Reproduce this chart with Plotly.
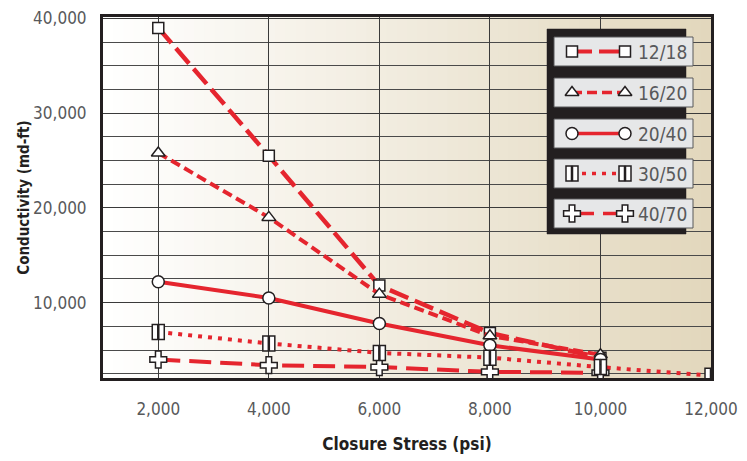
import plotly.graph_objects as go

# ---------------- data ----------------
stress = [2000, 4000, 6000, 8000, 10000, 12000]
series_names = ["12/18", "16/20", "20/40", "30/50", "40/70"]
c_12_18 = [39000, 25500, 11800, 6800, 4200]
c_16_20 = [25800, 19000, 10900, 6500, 4500]
c_20_40 = [12200, 10500, 7800, 5500, 4000]
c_30_50 = [6900, 5700, 4700, 4200, 3200, 2300]
c_40_70 = [4000, 3400, 3200, 2700, 2600]
x_ticks = [2000, 4000, 6000, 8000, 10000, 12000]
x_tick_labels = ["2,000", "4,000", "6,000", "8,000", "10,000", "12,000"]
y_ticks = [10000, 20000, 30000, 40000]
y_tick_labels = ["10,000", "20,000", "30,000", "40,000"]

RED = "#e5252e"
DARK = "#231f20"
FONT = "Liberation Sans Narrow, DejaVu Sans Condensed, Arial Narrow, sans-serif"

# page has an 8px body margin -> figure drawn 8px in from the window corner
OFF = 8
W, H = 747 - OFF, 461 - OFF
# plot area in page pixels
PL, PR, PT, PB = 103, 711, 17, 378
L, R, T, B = PL - OFF, PR - OFF, PT - OFF, PB - OFF

styles = {
    "12/18": dict(dash="20px,7px", symbol="square", width=4.5),
    "16/20": dict(dash="10px,5px", symbol="triangle-up", width=4),
    "20/40": dict(dash="solid", symbol="circle", width=4),
    "30/50": dict(dash="4px,6px", symbol=None, width=4),
    "40/70": dict(dash="22px,9px", symbol="cross", width=4),
}
values = {"12/18": c_12_18, "16/20": c_16_20, "20/40": c_20_40,
          "30/50": c_30_50, "40/70": c_40_70}

fig = go.Figure()
shapes = []

# gradient background (white -> tan)
n_strips = 60
c0 = (255, 255, 255)
c1 = (226, 215, 188)
for i in range(n_strips):
    t = (i + 0.5) / n_strips
    col = tuple(int(round(c0[k] + (c1[k] - c0[k]) * t)) for k in range(3))
    shapes.append(dict(type="rect", xref="x domain", yref="y domain",
                       x0=i / n_strips, x1=(i + 1) / n_strips + 0.002, y0=0, y1=1,
                       fillcolor="rgb(%d,%d,%d)" % col, line=dict(width=0),
                       layer="below"))


def double_bar(xref, yref, xv, yv):
    out = []
    for (a, b) in [(-6, -0.5), (0.5, 6)]:
        out.append(dict(type="rect", xref=xref, yref=yref,
                        xsizemode="pixel", ysizemode="pixel",
                        xanchor=xv, yanchor=yv, x0=a, x1=b, y0=-7.5, y1=7.5,
                        fillcolor="white", line=dict(color=DARK, width=1.5),
                        layer="above"))
    return out


def marker_for(st):
    mk = dict(size=12, color="white", line=dict(color=DARK, width=1.5))
    if st["symbol"]:
        mk["symbol"] = st["symbol"]
        if st["symbol"] == "cross":
            mk["size"] = 14
        if st["symbol"] == "square":
            mk["size"] = 11
    return mk


for name in series_names:
    st = styles[name]
    ys = values[name]
    xs = stress[:len(ys)]
    mode = "lines+markers" if st["symbol"] else "lines"
    fig.add_trace(go.Scatter(x=xs, y=ys, mode=mode, name=name, showlegend=False,
                             line=dict(color=RED, width=st["width"], dash=st["dash"]),
                             marker=marker_for(st)))
    if st["symbol"] is None:
        for xv, yv in zip(xs, ys):
            shapes += double_bar("x", "y", xv, yv)


# ---------------- custom legend (page-pixel overlay axis) ----------------
def rect_trace(x0, x1, y0, y1, fill, line_color, line_width):
    return go.Scatter(x=[x0, x1, x1, x0, x0], y=[y0, y0, y1, y1, y0],
                      xaxis="x2", yaxis="y2", mode="lines", fill="toself",
                      fillcolor=fill, line=dict(color=line_color, width=line_width),
                      showlegend=False, hoverinfo="skip")


fig.add_trace(rect_trace(547, 686, 29, 234, DARK, DARK, 0.5))
box_tops = [37, 78, 119, 159, 199]
annotations = []
for name, top in zip(series_names, box_tops):
    st = styles[name]
    fig.add_trace(rect_trace(554, 693, top, top + 29, "#e6e7e8", "#58595b", 1))
    yc = top + 14.5
    mode = "lines+markers" if st["symbol"] else "lines"
    fig.add_trace(go.Scatter(x=[572, 625], y=[yc, yc], xaxis="x2", yaxis="y2",
                             mode=mode, showlegend=False, hoverinfo="skip",
                             line=dict(color=RED, width=st["width"] - 0.5, dash=st["dash"]),
                             marker=marker_for(st)))
    if st["symbol"] is None:
        shapes += double_bar("x2", "y2", 572, yc)
        shapes += double_bar("x2", "y2", 625, yc)
    annotations.append(dict(xref="x2", yref="y2", x=689, y=yc, text=name,
                            showarrow=False, xanchor="right", yanchor="middle",
                            font=dict(family=FONT, size=19, color="#58595b")))

fig.update_layout(
    width=W, height=H,
    margin=dict(l=L, r=W - R, t=T, b=H - B, autoexpand=False),
    paper_bgcolor="white", plot_bgcolor="white",
    shapes=shapes, annotations=annotations,
    showlegend=False,
    xaxis=dict(range=[1000, 12000], tickvals=x_ticks, ticktext=x_tick_labels,
               showgrid=True, gridcolor="#3a3a3a", gridwidth=1.2,
               showline=True, linecolor=DARK, linewidth=3, mirror=True,
               ticks="", zeroline=False, automargin=False, ticklabelstandoff=14,
               ticklabeloverflow="allow",
               tickfont=dict(family=FONT, size=17, color="#58595b"),
               title=dict(text="<b>Closure Stress (psi)</b>", standoff=20,
                          font=dict(family=FONT, size=17, color=DARK))),
    yaxis=dict(range=[2050, 40150], tickvals=y_ticks, ticktext=y_tick_labels,
               showgrid=True, gridcolor="#3a3a3a", gridwidth=1.2,
               minor=dict(dtick=2500, tick0=0, showgrid=True, gridcolor="#4a4a4a", gridwidth=1.2),
               showline=True, linecolor=DARK, linewidth=3, mirror=True,
               ticks="", zeroline=False, automargin=False, ticklabelstandoff=10,
               ticklabeloverflow="allow",
               tickfont=dict(family=FONT, size=17, color="#58595b"),
               title=dict(text="<b>Conductivity (md-ft)</b>", standoff=0,
                          font=dict(family=FONT, size=15, color=DARK))),
    xaxis2=dict(overlaying="x", anchor="y2", range=[PL, PR], visible=False, fixedrange=True),
    yaxis2=dict(overlaying="y", anchor="x2", range=[PB, PT], visible=False, fixedrange=True),
)

fig.write_html("out.html")
